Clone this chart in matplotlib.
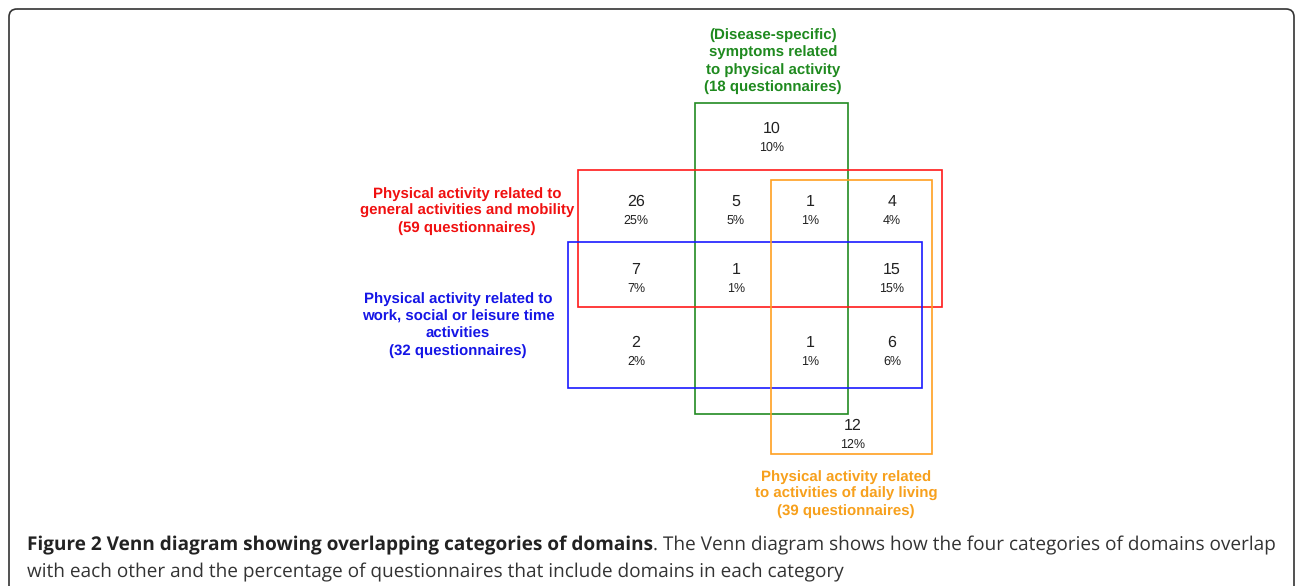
import matplotlib
matplotlib.use("Agg")
import matplotlib.pyplot as plt
from matplotlib.patches import Rectangle, FancyBboxPatch

plt.rcParams['text.hinting'] = 'no_hinting'

# region counts and shares
region_counts = [10, 26, 5, 1, 4, 7, 1, 15, 2, 1, 6, 12]
region_pcts = ["10%", "25%", "5%", "1%", "4%", "7%", "1%", "15%", "2%", "1%", "6%", "12%"]

set_names = [
    "(Disease-specific)\nsymptoms related\nto physical activity\n(18 questionnaires)",
    "Physical activity related to\ngeneral activities and mobility\n(59 questionnaires)",
    "Physical activity related to\nwork, social or leisure time\nactivities\n(32 questionnaires)",
    "Physical activity related\nto activities of daily living\n(39 questionnaires)",
]
set_colors = ["#228b22", "#ff1a1a", "#1a1aff", "#ffa020"]
label_colors = ["#1f8a1f", "#f01010", "#1515e6", "#f7a01c"]

caption_bold = "Figure 2 Venn diagram showing overlapping categories of domains"
caption_rest = (". The Venn diagram shows how the four categories of domains overlap",
                "with each other and the percentage of questionnaires that include domains in each category")

# layout in pixels (x0, y0, x1, y1), y grows downward
set_boxes = [(695, 103, 848, 414), (578, 170, 942, 307), (568, 242, 922, 388), (771, 180, 932, 454)]
label_pos = [(773, 61), (467, 211), (458, 325), (846, 494)]
region_pos = [(772, 129), (636, 202), (736, 202), (810, 202), (892, 202),
              (636, 270), (736, 270), (892, 270), (636, 343), (810, 343),
              (892, 343), (853, 426)]

W, H = 1295, 586
fig = plt.figure(figsize=(W / 100, H / 100), dpi=100)
ax = fig.add_axes([0, 0, 1, 1])
ax.set_xlim(0, W)
ax.set_ylim(H, 0)
ax.axis("off")

# outer frame, open at the bottom
frame = FancyBboxPatch((9, 9), 1285, 620, boxstyle="round,pad=0,rounding_size=8",
                       fill=False, edgecolor="#333333", linewidth=1.2, clip_on=True)
ax.add_patch(frame)

for (x0, y0, x1, y1), c in zip(set_boxes, set_colors):
    ax.add_patch(Rectangle((x0, y0), x1 - x0, y1 - y0, fill=False, edgecolor=c, linewidth=1.2))

for (x, y), name, c in zip(label_pos, set_names, label_colors):
    ax.text(x, y, name, color=c, ha="center", va="center", fontsize=10.8,
            fontweight="bold", family="Liberation Sans", linespacing=1.3)

for (x, y), n, p in zip(region_pos, region_counts, region_pcts):
    ax.text(x, y, str(n), ha="center", va="center", fontsize=11.5,
            family="Liberation Sans", color="#222222")
    ax.text(x, y + 19, p, ha="center", va="center", fontsize=9,
            family="Liberation Sans", color="#222222")

# caption
fig.canvas.draw()
r = fig.canvas.get_renderer()
fs = 12.5
t1 = ax.text(27, 545, caption_bold, fontsize=fs, fontweight="bold", family="Open Sans",
             va="center", ha="left", color="#222222")
bb = t1.get_window_extent(r)
x_end = ax.transData.inverted().transform((bb.x1, bb.y0))[0]
t2 = ax.text(x_end, 545, caption_rest[0], fontsize=fs, family="Open Sans",
             va="center", ha="left", color="#333333")
bb2 = t2.get_window_extent(r)
scale = (1276 - 27) / (bb2.x1 - bb.x0)
fs = fs * scale
t1.set_fontsize(fs)
bb = t1.get_window_extent(r)
x_end = ax.transData.inverted().transform((bb.x1, bb.y0))[0]
t2.set_fontsize(fs)
t2.set_x(x_end)
ax.text(27, 572, caption_rest[1], fontsize=fs, family="Open Sans",
        va="center", ha="left", color="#333333")

fig.savefig("out.png", dpi=100)
